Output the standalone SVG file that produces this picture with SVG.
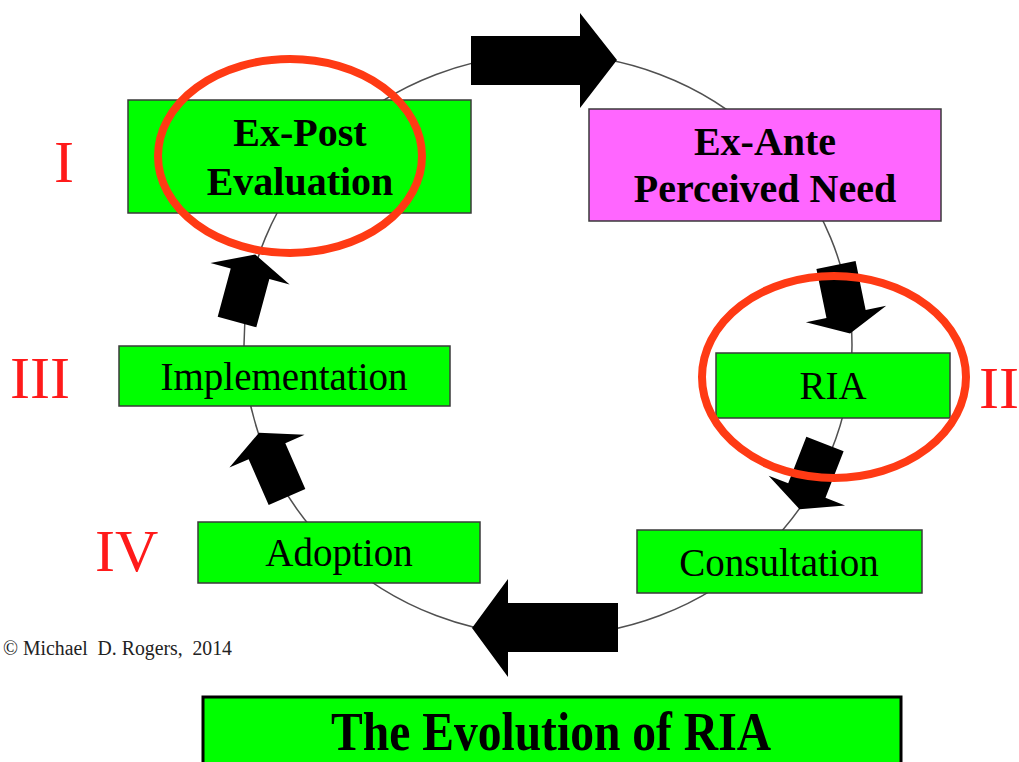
<svg xmlns="http://www.w3.org/2000/svg" xmlns:xlink="http://www.w3.org/1999/xlink" width="1019" height="762" viewBox="0 0 1019 762">
  <style>
    .box { fill: #00FF00; stroke: #3a3a3a; stroke-width: 1.5; }
    .pink { fill: #FF66FF; stroke: #3a3a3a; stroke-width: 1.5; }
    .lbl { font-family: "Liberation Serif", "Times New Roman", serif; fill: #000; text-anchor: middle; }
    .bold { font-weight: bold; font-size: 40px; }
    .reg { font-size: 39px; }
    .num { font-family: "Liberation Serif", "Times New Roman", serif; fill: #FF1A1A; font-size: 60px; }
    .ring { fill: none; stroke: #FF3A14; stroke-width: 8; }
    .cycle { fill: none; stroke: #505050; stroke-width: 1.5; }
    .blk { fill: #000; }
  </style>
  <defs>
    <!-- small block arrow, base centre at origin, pointing along +x -->
    <path id="sarrow" d="M0,-20 H50 V-41 L70,0 L50,41 V20 H0 Z"/>
  </defs>
  <rect width="1019" height="762" fill="#fff"/>

  <!-- cycle line and block arrows -->
  <g id="connectors">
    <ellipse class="cycle" cx="548" cy="345" rx="304" ry="291"/>
    <polygon class="blk" points="471,36 580,36 580,13 617,60 580,108 580,85 471,85"/>
    <polygon class="blk" points="618,603 508,603 508,579 472,628 508,677 508,652 618,652"/>
    <use class="blk" xlink:href="#sarrow" transform="translate(836,265) rotate(78.4)"/>
    <use class="blk" xlink:href="#sarrow" transform="translate(825,444) rotate(111.3)"/>
    <use class="blk" xlink:href="#sarrow" transform="translate(287,497) rotate(-113.6)"/>
    <use class="blk" xlink:href="#sarrow" transform="translate(237,322) rotate(-74.9)"/>
  </g>

  <g id="expost">
    <rect class="box" x="128" y="100" width="343" height="113"/>
    <text class="lbl bold" x="300" y="146">Ex-Post</text>
    <text class="lbl bold" x="300" y="195">Evaluation</text>
  </g>
  <g id="exante">
    <rect class="pink" x="589" y="109" width="352" height="112"/>
    <text class="lbl bold" x="765" y="155">Ex-Ante</text>
    <text class="lbl bold" x="765" y="202">Perceived Need</text>
  </g>
  <g id="ria">
    <rect class="box" x="716" y="353" width="234" height="65"/>
    <text class="lbl reg" x="833" y="399">RIA</text>
  </g>
  <g id="implementation">
    <rect class="box" x="119" y="346" width="331" height="60"/>
    <text class="lbl reg" x="284" y="390">Implementation</text>
  </g>
  <g id="adoption">
    <rect class="box" x="198" y="522" width="282" height="61"/>
    <text class="lbl reg" x="339" y="566">Adoption</text>
  </g>
  <g id="consultation">
    <rect class="box" x="637" y="530" width="285" height="63"/>
    <text class="lbl reg" x="779" y="576">Consultation</text>
  </g>

  <!-- stage numerals -->
  <g id="numerals">
    <text class="num" x="54" y="182">I</text>
    <text class="num" x="979" y="408" font-size="58">II</text>
    <text class="num" x="10" y="398">III</text>
    <text class="num" x="95" y="571">IV</text>
  </g>

  <!-- highlight rings -->
  <g id="rings">
    <ellipse class="ring" cx="290" cy="156" rx="132" ry="97"/>
    <ellipse class="ring" cx="834" cy="377" rx="132" ry="101"/>
  </g>

  <text id="copyright" x="3" y="655" font-family="Liberation Serif, Times New Roman, serif" font-size="20" fill="#222" xml:space="preserve" textLength="229" lengthAdjust="spacingAndGlyphs">© Michael  D. Rogers,  2014</text>

  <g id="title">
    <rect x="203" y="697" width="698" height="80" fill="#00FF00" stroke="#000" stroke-width="3"/>
    <text class="lbl" x="551" y="750" font-size="54" font-weight="bold" textLength="440" lengthAdjust="spacingAndGlyphs">The Evolution  of RIA</text>
  </g>
</svg>
